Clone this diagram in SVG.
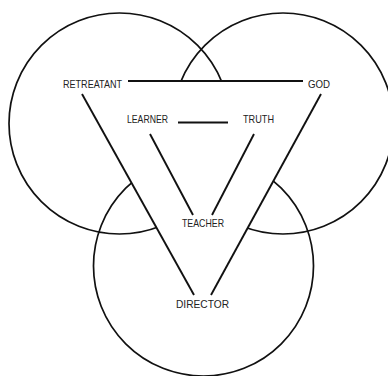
<svg xmlns="http://www.w3.org/2000/svg" width="388" height="376" viewBox="0 0 388 376">
<style>
.circ{fill:none;stroke:#111;stroke-width:1.7}
.mask{fill:#fff;stroke:none}
.ln{stroke:#111;stroke-width:1.9;stroke-linecap:butt;fill:none}
.box{fill:#fff;stroke:none}
.lbl{font-family:"Liberation Sans",Arial,sans-serif;font-size:11px;fill:#222;text-anchor:middle}
</style>
<rect width="388" height="376" fill="#fff"/>
<g id="circles">
<circle class="circ" cx="119.5" cy="123.5" r="110.5"/>
<circle class="circ" cx="283" cy="123.5" r="110.5"/>
<circle class="circ" cx="203.5" cy="266" r="110"/>
</g>
<polygon class="mask" points="75,81 328,81 203,310"/>
<g id="connectors">
<line class="ln" x1="128" y1="81" x2="303" y2="81"/>
<line class="ln" x1="82" y1="94" x2="194" y2="295"/>
<line class="ln" x1="321" y1="94" x2="211" y2="295"/>
<line class="ln" x1="178" y1="122.5" x2="228" y2="122.5"/>
<line class="ln" x1="150" y1="134" x2="193" y2="215"/>
<line class="ln" x1="254" y1="134" x2="212" y2="215"/>
</g>
<g id="retreatant"><rect class="box" x="58" y="75" width="69" height="18"/><text class="lbl" x="92.5" y="88" textLength="59" lengthAdjust="spacingAndGlyphs">RETREATANT</text></g>
<g id="god"><rect class="box" x="304" y="75" width="50" height="18"/><text class="lbl" x="319" y="88" textLength="22" lengthAdjust="spacingAndGlyphs">GOD</text></g>
<g id="learner"><text class="lbl" x="147.5" y="123" textLength="41" lengthAdjust="spacingAndGlyphs">LEARNER</text></g>
<g id="truth"><text class="lbl" x="258.5" y="123" textLength="31" lengthAdjust="spacingAndGlyphs">TRUTH</text></g>
<g id="teacher"><text class="lbl" x="203" y="227" textLength="42" lengthAdjust="spacingAndGlyphs">TEACHER</text></g>
<g id="director"><rect class="box" x="167" y="296" width="70" height="18"/><text class="lbl" x="202.5" y="307.5" textLength="53" lengthAdjust="spacingAndGlyphs">DIRECTOR</text></g>
</svg>
